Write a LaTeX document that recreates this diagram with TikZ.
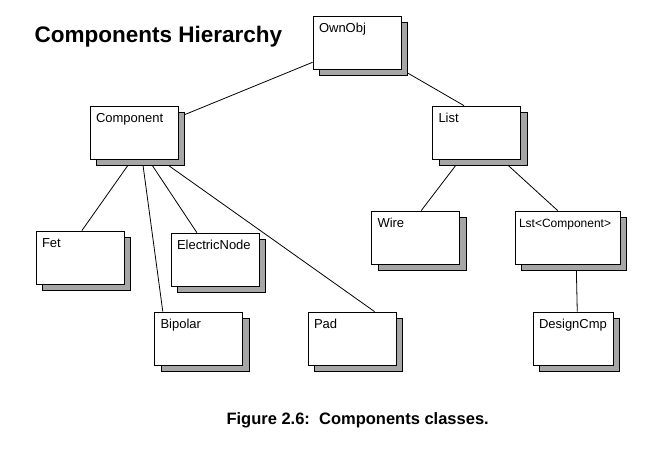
\documentclass[tikz,border=0pt]{standalone}
\usepackage{fontspec}
\setmainfont{Liberation Sans}
\usetikzlibrary{shadows,backgrounds}
\begin{document}
\begin{tikzpicture}[x=1pt,y=-1pt,
	cls/.style={rectangle,draw,line width=0.8pt,fill=white,align=left,
		text width=76pt,inner xsep=6pt,inner ysep=6pt,text height=10pt,text depth=31pt,
		font=\fontsize{13}{15}\selectfont,
		drop shadow={shadow xshift=6.5pt,shadow yshift=-6.5pt,fill=black!35,draw=black,line width=0.8pt,opacity=1}},
	link/.style={line width=0.8pt}]
	\useasboundingbox (0,0) rectangle (663,450);

	% Draw title and caption
	\node[anchor=base west,font=\fontsize{22.5}{27}\selectfont\bfseries] (title) at (31,42) {Components Hierarchy};
	\node[anchor=base west,font=\fontsize{16.5}{20}\selectfont\bfseries] (caption) at (223,424) {Figure 2.6:\ \ Components classes.};

	% Draw classes
	\node[cls] (ownobj) at (357,42.5) {OwnObj};
	\node[cls] (component) at (134,132.5) {Component};
	\node[cls] (list) at (476.5,132.5) {List};
	\node[cls] (fet) at (80,257.5) {Fet};
	\node[cls] (electric) at (215,259.5) {ElectricNode};
	\node[cls] (bipolar) at (198.5,338.5) {Bipolar};
	\node[cls] (pad) at (352,338.5) {Pad};
	\node[cls] (wire) at (415.5,237.5) {Wire};
	\node[cls,text width=97pt,inner xsep=4pt,font=\fontsize{12}{15}\selectfont] (lstcomp) at (567.5,237.5) {Lst<Component>};
	\node[cls,text width=68pt] (designcmp) at (573,338.5) {DesignCmp};

	% Draw hierarchy links
	\begin{scope}[on background layer]
		\draw[link] (ownobj.204) -- (component.19);
		\draw[link] (ownobj.south east) -- (list.115);
		\draw[link] (component.266) -- (fet.86);
		\draw[link] (component.287) -- (bipolar.143);
		\draw[link] (component.298) -- (electric.124);
		\draw[link] (component.314) -- (pad.50);
		\draw[link] (list.239) -- (wire.78);
		\draw[link] (list.313) -- (lstcomp.110);
		\draw[link] (lstcomp.288) -- (designcmp.81);
	\end{scope}
\end{tikzpicture}
\end{document}
